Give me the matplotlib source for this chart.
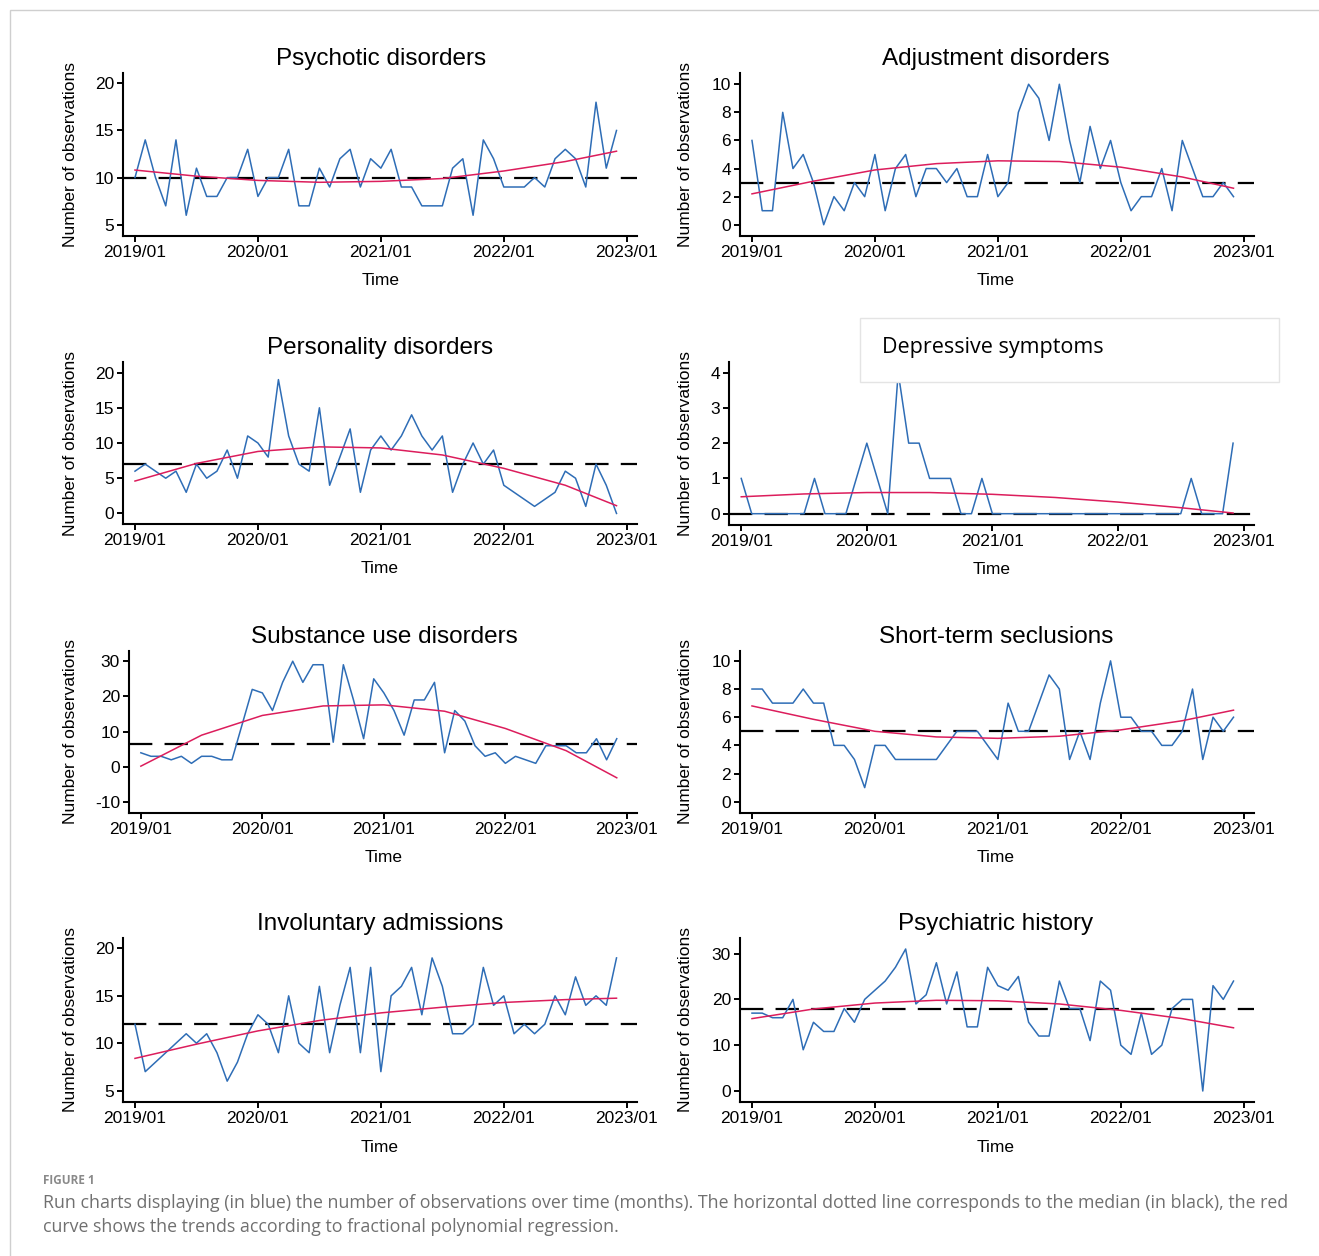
"""
run charts, monthly observations 2019-2022 (8 panels)
"""

import numpy as np
import matplotlib
matplotlib.use("Agg")
from matplotlib import pyplot as plt
from matplotlib.patches import Rectangle

plt.rcParams['font.family'] = ['Liberation Sans', 'DejaVu Sans']

# figure size in px (dpi 100)
W, H = 1319, 1256

titles = ["Psychotic disorders", "Adjustment disorders",
          "Personality disorders", "Depressive symptoms",
          "Substance use disorders", "Short-term seclusions",
          "Involuntary admissions", "Psychiatric history"]

tick_labels = ["2019/01", "2020/01", "2021/01", "2022/01", "2023/01"]

# monthly counts, 2019/01 .. 2022/12
psychotic = [10, 14, 10, 7, 14, 6, 11, 8, 8, 10, 10, 13,
             8, 10, 10, 13, 7, 7, 11, 9, 12, 13, 9, 12,
             11, 13, 9, 9, 7, 7, 7, 11, 12, 6, 14, 12,
             9, 9, 9, 10, 9, 12, 13, 12, 9, 18, 11, 15]
adjustment = [6, 1, 1, 8, 4, 5, 3, 0, 2, 1, 3, 2,
              5, 1, 4, 5, 2, 4, 4, 3, 4, 2, 2, 5,
              2, 3, 8, 10, 9, 6, 10, 6, 3, 7, 4, 6,
              3, 1, 2, 2, 4, 1, 6, 4, 2, 2, 3, 2]
personality = [6, 7, 6, 5, 6, 3, 7, 5, 6, 9, 5, 11,
               10, 8, 19, 11, 7, 6, 15, 4, 8, 12, 3, 9,
               11, 9, 11, 14, 11, 9, 11, 3, 7, 10, 7, 9,
               4, 3, 2, 1, 2, 3, 6, 5, 1, 7, 4, 0]
depressive = [1, 0, 0, 0, 0, 0, 0, 1, 0, 0, 0, 1,
              2, 1, 0, 4, 2, 2, 1, 1, 1, 0, 0, 1,
              0, 0, 0, 0, 0, 0, 0, 0, 0, 0, 0, 0,
              0, 0, 0, 0, 0, 0, 0, 1, 0, 0, 0, 2]
substance = [4, 3, 3, 2, 3, 1, 3, 3, 2, 2, 12, 22,
             21, 16, 24, 30, 24, 29, 29, 7, 29, 19, 8, 25,
             21, 16, 9, 19, 19, 24, 4, 16, 13, 6, 3, 4,
             1, 3, 2, 1, 6, 6, 6, 4, 4, 8, 2, 8]
seclusions = [8, 8, 7, 7, 7, 8, 7, 7, 4, 4, 3, 1,
              4, 4, 3, 3, 3, 3, 3, 4, 5, 5, 5, 4,
              3, 7, 5, 5, 7, 9, 8, 3, 5, 3, 7, 10,
              6, 6, 5, 5, 4, 4, 5, 8, 3, 6, 5, 6]
involuntary = [12, 7, 8, 9, 10, 11, 10, 11, 9, 6, 8, 11,
               13, 12, 9, 15, 10, 9, 16, 9, 14, 18, 9, 18,
               7, 15, 16, 18, 13, 19, 16, 11, 11, 12, 18, 14,
               15, 11, 12, 11, 12, 15, 13, 17, 14, 15, 14, 19]
history = [17, 17, 16, 16, 20, 9, 15, 13, 13, 18, 15, 20,
           22, 24, 27, 31, 19, 21, 28, 19, 26, 14, 14, 27,
           23, 22, 25, 15, 12, 12, 24, 18, 18, 11, 24, 22,
           10, 8, 17, 8, 10, 18, 20, 20, 0, 23, 20, 24]

series = [psychotic, adjustment, personality, depressive,
          substance, seclusions, involuntary, history]

medians = [10, 3, 7, 0, 6.5, 5, 12, 18]

# fractional polynomial trend, every 6 months
trend_months = [0, 6, 12, 18, 24, 30, 36, 42, 47]
trend_psychotic = [10.8, 10.15, 9.7, 9.5, 9.6, 9.9, 10.7, 11.7, 12.8]
trend_adjustment = [2.2, 3.1, 3.9, 4.35, 4.55, 4.5, 4.1, 3.4, 2.6]
trend_personality = [4.6, 7.1, 8.8, 9.45, 9.3, 8.3, 6.4, 4.0, 1.1]
trend_depressive = [0.48, 0.56, 0.6, 0.6, 0.55, 0.46, 0.33, 0.17, 0.02]
trend_substance = [0.2, 9.0, 14.6, 17.3, 17.6, 15.8, 10.9, 4.6, -3.1]
trend_seclusions = [6.8, 5.85, 5.0, 4.6, 4.5, 4.65, 5.1, 5.75, 6.5]
trend_involuntary = [8.4, 9.9, 11.3, 12.4, 13.2, 13.8, 14.3, 14.6, 14.75]
trend_history = [15.8, 17.9, 19.2, 19.8, 19.7, 19.0, 17.6, 15.8, 13.8]

trends = [trend_psychotic, trend_adjustment, trend_personality, trend_depressive,
          trend_substance, trend_seclusions, trend_involuntary, trend_history]

yticks = [[5, 10, 15, 20], [0, 2, 4, 6, 8, 10], [0, 5, 10, 15, 20], [0, 1, 2, 3, 4],
          [-10, 0, 10, 20, 30], [0, 2, 4, 6, 8, 10], [5, 10, 15, 20], [0, 10, 20, 30]]
ylims = [(3.8, 21.1), (-0.8, 10.8), (-1.5, 21.5), (-0.32, 4.3),
         (-13.1, 32.9), (-0.8, 10.7), (3.8, 21.1), (-2.4, 33.4)]

# axes boxes in px: left, right, top, bottom
boxes = [(123, 637, 73, 236), (740, 1254, 73, 236),
         (123, 637, 362, 524), (729, 1254, 362, 525),
         (129, 637, 651, 813), (740, 1254, 651, 813),
         (123, 637, 938, 1102), (740, 1254, 938, 1102)]
# centre of title / "Time" label and right edge of the y label, px
centres = [381, 996, 380, 992, 384, 996, 380, 996]
ylab_x = [78, 693, 78, 693, 78, 693, 78, 693]

blue = '#2e6db6'
red = '#dc1d5c'


def px_box(l, r, t, b):
    return [l / W, 1 - b / H, (r - l) / W, (b - t) / H]


def run_chart(ax, k):
    months = np.arange(len(series[k]))
    ax.axhline(medians[k], color='black', lw=1.6, dashes=(10.5, 5.5), zorder=1)
    ax.plot(months, series[k], color=blue, lw=1.1, zorder=2)
    ax.plot(trend_months, trends[k], color=red, lw=1.1, zorder=3)

    ax.set_xlim(-1.17, 49.0)
    ax.set_ylim(*ylims[k])
    ax.set_xticks([0, 12, 24, 36, 48])
    ax.set_xticklabels(tick_labels)
    ax.set_yticks(yticks[k])
    ax.set_yticklabels([str(v) for v in yticks[k]])

    for s in ['top', 'right']:
        ax.spines[s].set_visible(False)
    for s in ['left', 'bottom']:
        ax.spines[s].set_linewidth(1.5)
    ax.tick_params(direction='out', length=4, width=1.4, labelsize=12.5, pad=2.5)

    l, r, t, b = boxes[k]
    cx = (centres[k] - l) / (r - l)
    if k != 3:
        ax.set_title(titles[k], fontsize=17.5, x=cx, pad=6)
    ax.set_xlabel('Time', fontsize=12.5)
    ax.xaxis.set_label_coords(cx, -0.23)
    ax.set_ylabel('Number of observations', fontsize=12.5)
    ax.yaxis.set_label_coords((ylab_x[k] - l) / (r - l), 0.5)


fig = plt.figure(figsize=(W / 100, H / 100), dpi=100)

# light grey frame around the figure
fig.patches.append(Rectangle((10 / W, -0.05), 1.1, 1 - 10 / H + 0.05, transform=fig.transFigure,
                             fill=False, edgecolor='#cfcfcf', lw=1.0))

for k in range(8):
    ax = fig.add_axes(px_box(*boxes[k]))
    run_chart(ax, k)

# pasted title box of the depressive symptoms panel
fig.patches.append(Rectangle((860 / W, 1 - 382 / H), 419 / W, 64 / H, transform=fig.transFigure,
                             facecolor='white', edgecolor='#e4e4e4', lw=1.0, zorder=10))
fig.text(882 / W, 1 - 347 / H, "Depressive symptoms", family=['Open Sans', 'DejaVu Sans'],
         fontsize=15.5, va='center', ha='left', zorder=11)

# caption
fig.text(43 / W, 1 - 1180 / H, "FIGURE 1", family=['Open Sans', 'DejaVu Sans'],
         fontsize=8.5, color='#8a8a8a', va='center', weight='bold')
fig.text(43 / W, 1 - 1203 / H,
         "Run charts displaying (in blue) the number of observations over time (months). "
         "The horizontal dotted line corresponds to the median (in black), the red",
         family=['Open Sans', 'DejaVu Sans'], fontsize=12.8, color='#707070', va='center')
fig.text(43 / W, 1 - 1227 / H,
         "curve shows the trends according to fractional polynomial regression.",
         family=['Open Sans', 'DejaVu Sans'], fontsize=12.8, color='#707070', va='center')

plt.savefig('out.png', dpi=100)
